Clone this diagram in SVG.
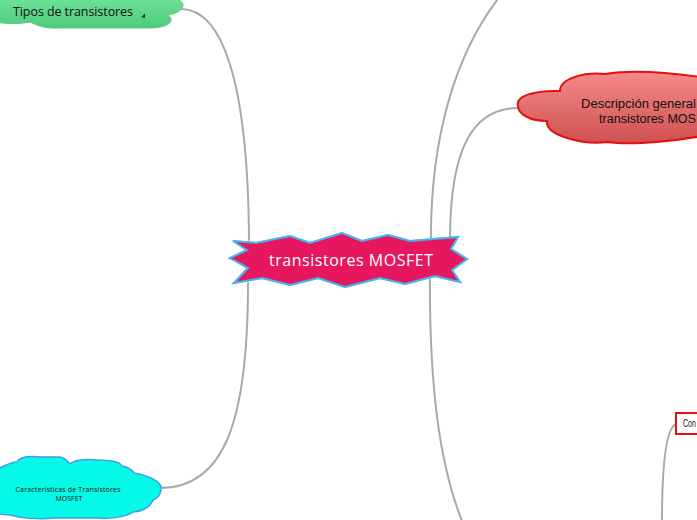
<svg xmlns="http://www.w3.org/2000/svg" width="697" height="520" viewBox="0 0 697 520">
<style>
.conn{fill:none;stroke:#a9a9a9;stroke-width:2;stroke-linecap:round}
.lbl{font-family:"Open Sans","Liberation Sans",sans-serif;fill:#111}
.lbs{font-family:"Liberation Sans","Open Sans",sans-serif;fill:#111}
</style>
<defs>
<linearGradient id="gGreen" x1="0" y1="0" x2="0" y2="1"><stop offset="0" stop-color="#72e39c"/><stop offset="1" stop-color="#4ccb7c"/></linearGradient>
<linearGradient id="gRed" x1="0" y1="0" x2="0" y2="1"><stop offset="0" stop-color="#f68a8a"/><stop offset="1" stop-color="#cf5050"/></linearGradient>
<filter id="glow" x="-10%" y="-30%" width="120%" height="160%"><feGaussianBlur in="SourceAlpha" stdDeviation="1.5"/><feFlood flood-color="#7cc8f0"/><feComposite operator="in" in2="SourceAlpha"/><feMerge><feMergeNode/><feMergeNode in="SourceGraphic"/></feMerge></filter>
</defs>
<rect width="697" height="520" fill="#fff"/>
<g id="connectors">
<path class="conn" d="M181,9 C222,9 248,80 249,240"/>
<path class="conn" d="M160,488 C225,488 248,420 248,283"/>
<path class="conn" d="M431,250 C429,140 455,50 505,-10"/>
<path class="conn" d="M430,270 C429,380 438,470 468,535"/>
<path class="conn" d="M518,108 C472,108 450,150 450,240"/>
<path class="conn" d="M676,424 C666,428 662,465 662,522"/>
</g>
<g id="node-tipos">
<path d="M-5,-5 L168,-5 C178,-2 186,3 182,8 C179,13 172,14 168,15 C176,21 168,28 150,28 L60,28 C45,29 36,25 30,22 C20,24 5,24 -5,22 Z" fill="url(#gGreen)" stroke="#5cc883" stroke-width="1"/>
<text class="lbl" x="13" y="16" font-size="12.5" textLength="120">Tipos de transistores</text>
<polygon points="141,17.5 145,17.5 145,13.5" fill="#222"/>
</g>
<g id="node-center">
<polygon points="233,241 256,243 290,236 310,243 342,233 362,241 388,235 410,241 458,237 451,249 467,259 452,270 460,282 435,276 405,284 380,278 345,287 318,278 290,285 262,278 234,283 248,268 230,258 247,250" fill="#e6195f" stroke="#45b3ec" stroke-width="2" stroke-linejoin="miter" filter="url(#glow)"/>
<text x="351" y="266" font-family="'Open Sans','Liberation Sans',sans-serif" font-size="16" fill="#fff" text-anchor="middle" textLength="164">transistores MOSFET</text>
</g>
<g id="node-descripcion">
<path d="M518,106 C515,96 535,90 560,91 C560,78 585,72 605,74 C630,70 665,72 700,77 L702,77 L702,136 C680,140 635,146 607,142 C585,145 545,136 547,121 C530,121 518,114 518,106 Z" fill="url(#gRed)" stroke="#e31010" stroke-width="2"/>
<text class="lbs" x="581" y="108" font-size="12" textLength="115" lengthAdjust="spacingAndGlyphs">Descripción general</text>
<text class="lbs" x="599" y="123" font-size="12" textLength="97" lengthAdjust="spacingAndGlyphs">transistores MOS</text>
</g>
<g id="node-caracteristicas">
<path d="M-5,470 C5,466 10,462 17,462 C20,456 30,456 40,457 L60,457 C66,458 68,462 70,464 C76,459 90,459 97,460 C110,460 120,462 122,466 C128,467 132,470 134,473 C150,476 163,482 161,490 C160,496 156,499 153,500 C150,508 140,512 133,512 C125,518 105,519 97,518 L55,518 C40,520 20,518 10,515 L-5,514 Z" fill="#06f9e6" stroke="#3b9fe9" stroke-width="1.5"/>
<text class="lbl" x="68" y="492" font-size="7" text-anchor="middle" textLength="105">Características de Transistores</text>
<text class="lbl" x="69" y="501" font-size="7" text-anchor="middle">MOSFET</text>
</g>
<g id="node-con">
<rect x="676" y="413" width="30" height="21" fill="#fff" stroke="#e31010" stroke-width="2"/>
<text class="lbs" x="683" y="427" font-size="10" textLength="13" lengthAdjust="spacingAndGlyphs">Con</text>
</g>
</svg>
